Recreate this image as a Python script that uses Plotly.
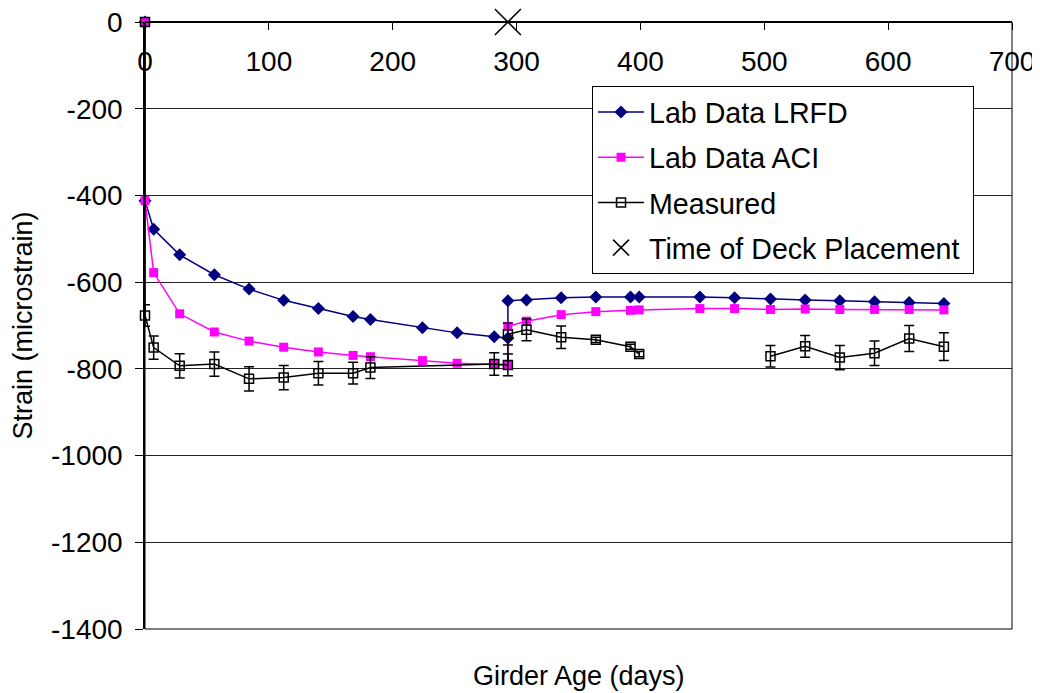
import plotly.graph_objects as go

# ---- data ----
lrfd_days = [0, 0, 7, 28, 56, 84, 112, 140, 168, 182, 224, 252, 282, 293, 293, 308, 336, 364,
             392, 399, 448, 476, 505, 533, 561, 589, 617, 645]
lrfd_strain = [0, -412, -478, -537, -583, -616, -642, -661, -679, -686, -705, -717, -726, -729,
               -643, -641, -636, -634, -634, -634, -634, -636, -639, -641, -643, -645, -647, -649]

aci_days = lrfd_days
aci_strain = [0, -412, -578, -673, -715, -736, -750, -761, -769, -772, -781, -787, -790, -792,
              -702, -690, -675, -668, -665, -664, -661, -661, -663, -662, -663, -663, -663, -664]

meas_days = [0, 0, 7, 28, 56, 84, 112, 140, 168, 182, 282, 293, 293, 308, 336, 364, 392, 399,
             450, 505, 533, 561, 589, 617, 645]
meas_strain = [0, -677, -751, -793, -789, -823, -820, -810, -810, -797, -789, -791, -720, -710,
               -727, -733, -749, -766, None, -771, -748, -774, -764, -730, -749]
meas_err = [0, 25, 27, 28, 28, 28, 28, 27, 25, 25, 26, 25, 25, 25, 26, 6, 6, 6, 0, 25, 25, 28,
            28, 30, 32]

deck_day = [293]
deck_strain = [0]

x_ticks = [0, 100, 200, 300, 400, 500, 600, 700]
y_ticks = [0, -200, -400, -600, -800, -1000, -1200, -1400]

FONT = "Arial, Liberation Sans, sans-serif"

fig = go.Figure()
fig.add_trace(go.Scatter(
    x=lrfd_days, y=lrfd_strain, name="Lab Data LRFD", mode="lines+markers",
    line=dict(color="#000080", width=1.5),
    marker=dict(symbol="diamond", size=10, color="#000080"),
    cliponaxis=False, legendgroup="a"))
fig.add_trace(go.Scatter(
    x=aci_days, y=aci_strain, name="Lab Data ACI", mode="lines+markers",
    line=dict(color="#FF00FF", width=1.5),
    marker=dict(symbol="square", size=9, color="#FF00FF"),
    cliponaxis=False, legendgroup="b"))
fig.add_trace(go.Scatter(
    x=meas_days, y=meas_strain, name="Measured", mode="lines+markers",
    line=dict(color="black", width=1.5), connectgaps=False,
    marker=dict(symbol="square-open", size=9, color="black", line=dict(width=1.5)),
    error_y=dict(type="data", array=meas_err, visible=True, color="black",
                 thickness=1.5, width=5),
    cliponaxis=False, legendgroup="c"))
fig.add_trace(go.Scatter(
    x=deck_day, y=deck_strain, name="Time of Deck Placement\u00a0", mode="markers",
    marker=dict(symbol="x-thin-open", size=26, color="black", line=dict(width=1.5, color="black")),
    cliponaxis=False, legendgroup="d"))

# the page body adds an 8px offset, so the figure is sized/placed to compensate
fig.update_layout(
    width=1032, height=685,
    margin=dict(l=137, r=28, t=14, b=64, autoexpand=False),
    paper_bgcolor="white", plot_bgcolor="white",
    font=dict(family=FONT, size=28, color="black"),
    showlegend=True,
    legend=dict(x=0.5156, y=0.8946, xanchor="left", yanchor="top",
                bgcolor="white", bordercolor="black", borderwidth=1,
                font=dict(size=28.6, family=FONT), tracegroupgap=5, itemwidth=46),
    xaxis=dict(range=[0, 700], tickvals=x_ticks, ticktext=[str(v) for v in x_ticks],
               anchor="free", position=1, side="bottom", automargin=False,
               ticklabeloverflow="allow",
               showline=True, linecolor="black", linewidth=1.5,
               ticks="outside", ticklen=7, tickcolor="black",
               showgrid=False, zeroline=False, ticklabelstandoff=8),
    yaxis=dict(range=[-1400, 0], tickvals=y_ticks, ticktext=[str(v) for v in y_ticks],
               automargin=False, ticklabeloverflow="allow",
               showline=True, linecolor="black", linewidth=1.5,
               ticks="outside", ticklen=8, tickcolor="black",
               showgrid=True, gridcolor="#222222", gridwidth=1, zeroline=False,
               ticklabelstandoff=7),
    annotations=[
        dict(text="Girder Age (days)", xref="paper", yref="paper", x=0.5, y=0,
             xanchor="center", yanchor="middle", yshift=-47, showarrow=False,
             font=dict(size=27, family=FONT)),
        dict(text="Strain (microstrain)", xref="paper", yref="paper", x=0, y=0.5,
             xanchor="center", yanchor="middle", xshift=-123, textangle=-90, showarrow=False,
             font=dict(size=27, family=FONT)),
    ],
    shapes=[dict(type="rect", xref="paper", yref="paper", x0=0, x1=1, y0=0, y1=1,
                 line=dict(color="black", width=1), layer="below")],
)

fig.write_html("out.html")
